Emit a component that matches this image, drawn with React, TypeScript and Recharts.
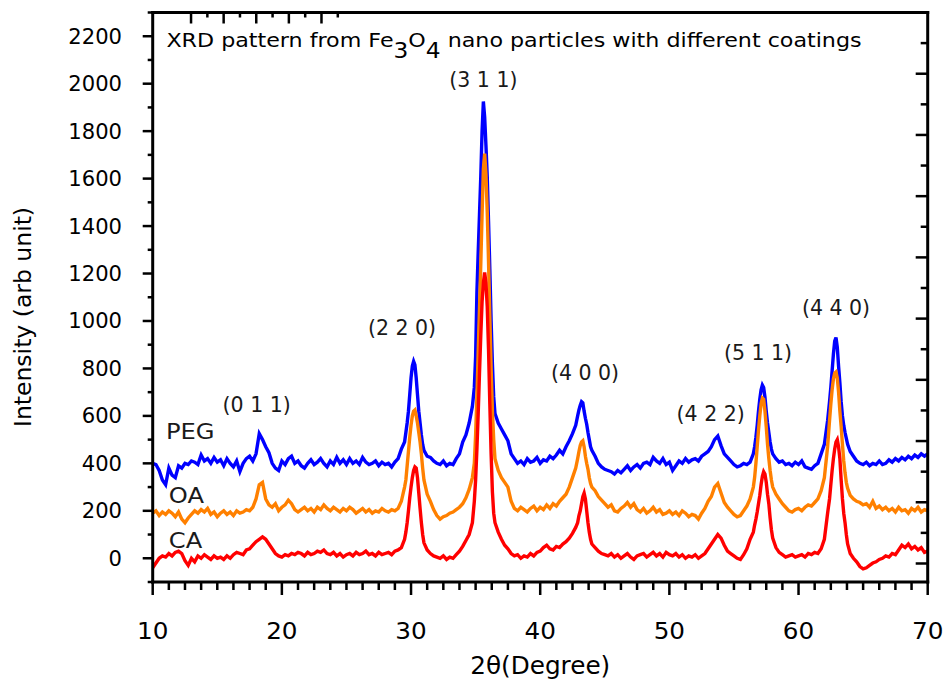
import React from 'react';
import { LineChart, Line, XAxis, YAxis, ReferenceDot, ReferenceLine } from 'recharts';

// ---------------- data ----------------
const twoTheta = [
  10, 10.25, 10.5, 10.75, 11, 11.25, 11.5, 11.75, 12, 12.25,
  12.5, 12.75, 13, 13.25, 13.5, 13.75, 14, 14.25, 14.5, 14.75,
  15, 15.25, 15.5, 15.75, 16, 16.25, 16.5, 16.75, 17, 17.25,
  17.5, 17.75, 18, 18.25, 18.5, 18.75, 19, 19.25, 19.5, 19.75,
  20, 20.25, 20.5, 20.75, 21, 21.25, 21.5, 21.75, 22, 22.25,
  22.5, 22.75, 23, 23.25, 23.5, 23.75, 24, 24.25, 24.5, 24.75,
  25, 25.25, 25.5, 25.75, 26, 26.25, 26.5, 26.75, 27, 27.25,
  27.5, 27.75, 28, 28.25, 28.5, 28.75, 29, 29.25, 29.5,
  29.6, 29.7, 29.8, 29.9, 30, 30.1, 30.2, 30.3, 30.4, 30.5, 30.6, 30.7, 30.8, 30.9, 31,
  31.25, 31.5, 31.75, 32, 32.25, 32.5, 32.75, 33, 33.25, 33.5, 33.75, 34, 34.25, 34.5, 34.75,
  34.9, 35, 35.1, 35.2, 35.3, 35.4, 35.5, 35.6, 35.7, 35.8, 35.9, 36, 36.1, 36.2, 36.3, 36.4, 36.5,
  36.75, 37, 37.25, 37.5, 37.75, 38, 38.25, 38.5, 38.75, 39, 39.25, 39.5, 39.75, 40, 40.25, 40.5, 40.75, 41, 41.25, 41.5, 41.75, 42, 42.25, 42.5, 42.75,
  42.9, 43, 43.1, 43.2, 43.3, 43.4, 43.5, 43.6, 43.7, 43.8, 43.9,
  44, 44.25, 44.5, 44.75, 45, 45.25, 45.5, 45.75, 46, 46.25,
  46.5, 46.75, 47, 47.25, 47.5, 47.75, 48, 48.25, 48.5, 48.75,
  49, 49.25, 49.5, 49.75, 50, 50.25, 50.5, 50.75, 51, 51.25,
  51.5, 51.75, 52, 52.25, 52.5, 52.75, 53, 53.25, 53.5, 53.75,
  54, 54.25, 54.5, 54.75, 55, 55.25, 55.5, 55.75, 56, 56.25,
  56.5,
  56.6, 56.7, 56.8, 56.9, 57, 57.1, 57.2, 57.3, 57.4, 57.5, 57.6, 57.7, 57.8, 57.9, 58,
  58.25, 58.5, 58.75, 59, 59.25, 59.5, 59.75, 60, 60.25, 60.5, 60.75, 61, 61.25, 61.5, 61.75, 62, 62.25,
  62.4, 62.5, 62.6, 62.7, 62.8, 62.9, 63, 63.1, 63.2, 63.3, 63.4, 63.5, 63.6, 63.7, 63.8,
  64, 64.25, 64.5, 64.75, 65, 65.25, 65.5, 65.75, 66, 66.25, 66.5, 66.75, 67, 67.25, 67.5, 67.75, 68, 68.25, 68.5, 68.75, 69, 69.25, 69.5, 69.75, 70,
];

const pegIntensity = [
  400, 395, 370, 330, 310, 380, 350, 340, 390, 380,
  400, 395, 410, 405, 395, 435, 410, 420, 400, 425,
  405, 415, 390, 420, 400, 385, 410, 365, 400, 420,
  430, 410, 440, 525, 500, 470, 445, 400, 380, 370,
  410, 395, 420, 430, 400, 410, 390, 380, 400, 415,
  395, 405, 420, 400, 385, 410, 395, 425, 400, 415,
  395, 420, 400, 410, 395, 425, 405, 395, 400, 410,
  390, 405, 395, 400, 385, 405, 420, 460, 490,
  530, 570, 620, 690, 760, 810, 830, 815, 760, 690, 620, 570, 520, 480, 455,
  430, 425, 410, 400, 395, 410, 390, 400, 395, 420, 440, 490, 520, 570, 640,
  720, 850, 1120, 1290, 1450, 1610, 1800, 1925, 1860, 1740, 1610, 1420, 1220, 1000, 820, 680, 610,
  570, 545, 520, 495, 440, 420, 400, 410, 395, 420, 405, 410, 425, 400, 415, 410, 430, 420, 435, 455, 440, 470, 495, 525, 560,
  600, 625, 645, 660, 655, 620, 590, 565, 530, 500, 470,
  455, 430, 400, 385, 375, 370, 365, 355, 370, 360,
  375, 390, 370, 385, 395, 380, 400, 405, 395, 425,
  410, 400, 420, 395, 405, 370, 390, 410, 400, 420,
  405, 415, 420, 410, 430, 440, 450, 470, 500, 515,
  475, 440, 425, 410, 395, 385, 390, 400, 395, 405,
  440,
  470, 510, 560, 620, 670, 710, 730, 720, 680, 620, 570, 530, 490, 460, 440,
  420, 405, 410, 395, 400, 390, 405, 395, 410, 385, 380, 375, 390, 400, 440, 480, 580,
  660, 720, 790, 860, 915, 930, 890, 810, 740, 660, 600, 560, 530, 505, 480,
  450, 430, 410, 400, 395, 405, 390, 400, 395, 410, 395, 400, 415, 405, 420, 410, 425, 415, 430, 420, 435, 425, 440, 430, 440,
];

const oaIntensity = [
  190, 200, 180, 195, 185, 200, 190, 175, 195, 165,
  150, 170, 185, 200, 190, 205, 195, 210, 185, 195,
  175, 190, 200, 185, 195, 180, 200, 190, 195, 205,
  200, 215, 250, 310, 320, 250, 225, 215, 230, 200,
  215, 225, 245, 230, 205, 195, 205, 215, 200, 210,
  195, 215, 205, 225, 210, 200, 215, 205, 195, 210,
  200, 215, 205, 190, 200, 210, 195, 205, 190, 200,
  195, 210, 200, 195, 205, 200, 210, 240, 300,
  330, 390, 450, 510, 560, 600, 620, 625, 600, 570, 530, 490, 440, 380, 330,
  270, 240, 205, 180, 165, 175, 180, 190, 195, 205, 215, 230, 255, 290, 340,
  400, 520, 680, 870, 1050, 1240, 1450, 1640, 1705, 1620, 1460, 1250, 1020, 800, 620, 500, 420,
  370, 340, 320, 300, 240, 210, 200, 215, 205, 195, 210, 220, 200, 215, 205, 225, 210, 230, 220, 240, 255, 270, 300, 340, 380,
  420, 450, 475, 490, 495, 470, 430, 400, 375, 340, 315,
  300, 285, 260, 245, 230, 215, 225, 200, 195, 210,
  220, 235, 215, 230, 205, 195, 210, 190, 200, 215,
  195, 205, 185, 190, 200, 185, 195, 180, 200, 190,
  175, 185, 180, 165, 190, 210, 240, 260, 300, 315,
  275, 235, 215, 200, 185, 175, 180, 200, 220, 250,
  300,
  340, 400, 470, 540, 600, 650, 675, 670, 620, 555, 480, 420, 370, 330, 300,
  270, 250, 230, 215, 200, 195, 205, 210, 200, 215, 225, 220, 235, 250, 285, 340, 470,
  580, 650, 710, 755, 780, 785, 760, 700, 620, 555, 480, 410, 360, 320, 295,
  265, 250, 240, 235, 225, 230, 215, 240, 210, 220, 205, 215, 200, 210, 195, 215, 200, 205, 190, 210, 200, 215, 195, 205, 200,
];

const caIntensity = [
  -40, -20, 0, 10, 5, 20, 10, 25, 30, 20,
  -10, -30, 0, -15, 10, 0, 15, 5, -5, 10,
  0, 5, -5, 10, 0, 15, 25, 20, 15, 35,
  40, 55, 70, 80, 90, 80, 60, 40, 20, 10,
  5, 15, 10, 20, 15, 25, 20, 10, 25, 15,
  20, 30, 25, 35, 20, 15, 25, 10, 20, 5,
  15, 20, 10, 25, 15, 20, 30, 15, 20, 10,
  25, 15, 20, 25, 15, 30, 35, 45, 80,
  110, 150, 200, 255, 300, 340, 370, 385, 380, 340, 275, 210, 150, 100, 65,
  35, 20, 10, 5, 0, 10, -5, 5, 0, 15, 30, 50, 75, 100, 150,
  240, 330, 460, 610, 780, 940, 1080, 1160, 1205, 1160, 1060, 880, 650, 440, 280, 190, 150,
  110, 80, 55, 40, 20, 10, 15, 0, 10, 5, 20, 10, 25, 30, 45, 55, 40, 35, 50, 45, 60, 70, 85, 105, 130,
  150, 180, 200, 230, 260, 275, 250, 200, 150, 110, 80,
  60, 45, 30, 20, 15, 10, 20, 5, 15, 0,
  10, 20, 5, -5, 10, 15, 20, 5, 15, 25,
  10, 20, 5, 25, 15, 10, 20, 5, 15, 0,
  10, 5, 15, 0, 10, 20, 40, 60, 80, 100,
  85, 55, 30, 20, 10, 0, -5, 15, 40, 80,
  110,
  140, 165, 195, 230, 265, 310, 345, 365, 355, 320, 270, 230, 170, 120, 85,
  45, 25, 15, 5, 10, 15, 5, 10, 15, 5, 20, 15, 25, 20, 40, 80, 190,
  250, 310, 370, 420, 460, 490, 500, 470, 420, 330, 250, 190, 150, 100, 60,
  20, 0, -15, -35, -45, -40, -30, -20, -15, -5, 0, 10, 5, 20, 15, 35, 55, 45, 60, 40, 50, 35, 45, 25, 30,
];

const xMajorTicks = [10, 20, 30, 40, 50, 60, 70];
const xMinorTicks = [
  11.25, 12.5, 13.75, 15, 16.25, 17.5, 18.75,
  21.25, 22.5, 23.75, 25, 26.25, 27.5, 28.75,
  31.25, 32.5, 33.75, 35, 36.25, 37.5, 38.75,
  41.25, 42.5, 43.75, 45, 46.25, 47.5, 48.75,
  51.25, 52.5, 53.75, 55, 56.25, 57.5, 58.75,
  61.25, 62.5, 63.75, 65, 66.25, 67.5, 68.75,
];
const yMajorTicks = [0, 200, 400, 600, 800, 1000, 1200, 1400, 1600, 1800, 2000, 2200];
const yMinorTicks = [-100, 100, 300, 500, 700, 900, 1100, 1300, 1500, 1700, 1900, 2100, 2300];
const topLongTicks = [14.05, 26, 37.95, 49.9, 61.85];
const topShortTicks = [20.03, 31.98, 43.93, 55.88, 67.83];
const rightLongTicks = [-22, 236, 494, 752, 1010, 1268, 1526, 1784, 2042, 2300];
const rightShortTicks = [107, 365, 623, 881, 1139, 1397, 1655, 1913, 2171];

const peakLabels = [
  { text: '(0 1 1)', x: 18.05, y: 616 },
  { text: '(2 2 0)', x: 29.3, y: 941 },
  { text: '(3 1 1)', x: 35.6, y: 1987 },
  { text: '(4 0 0)', x: 43.47, y: 751 },
  { text: '(4 2 2)', x: 53.2, y: 578 },
  { text: '(5 1 1)', x: 56.86, y: 836 },
  { text: '(4 4 0)', x: 62.9, y: 1025 },
];
const seriesLabels = [
  { text: 'PEG', x: 11.03, y: 503 },
  { text: 'OA', x: 11.25, y: 234 },
  { text: 'CA', x: 11.25, y: 42 },
];
const titlePos = { x: 11.06, y: 2155 };

// ---------------- layout ----------------
const W = 943;
const H = 680;
const PLOT_LEFT = 152.7;
const PLOT_RIGHT = 927.7;
const PLOT_TOP = 12.5;
const PLOT_BOTTOM = 582;
const BOTTOM_AXIS_H = 60;
const TOP_AXIS_H = 10;
const LEFT_AXIS_W = 100;
const RIGHT_AXIS_W = 10;
const X_MIN = 10;
const X_MAX = 70;
const PX_PER_DEG = (PLOT_RIGHT - PLOT_LEFT) / (X_MAX - X_MIN);
const FONT = '"DejaVu Sans", Verdana, sans-serif';

const rows = twoTheta.map((t, i) => ({
  t,
  peg: pegIntensity[i],
  oa: oaIntensity[i],
  ca: caIntensity[i],
}));

const leftAxisTicks = [...yMajorTicks, ...yMinorTicks].sort((a, b) => a - b);

type STProps = {
  x: number;
  y: number;
  sx?: number;
  anchor?: 'start' | 'middle' | 'end';
  size: number;
  fill?: string;
  children?: React.ReactNode;
};
const StretchText = ({ x, y, sx = 1, anchor = 'start', size, fill = '#000', children }: STProps) => (
  <text
    transform={`translate(${x},${y}) scale(${sx},1)`}
    x={0}
    y={0}
    textAnchor={anchor}
    fontSize={size}
    fontFamily={FONT}
    fill={fill}
  >
    {children}
  </text>
);

const BottomTick = (props: any) => {
  const { x, payload } = props;
  const v = payload.value;
  const major = xMajorTicks.includes(v);
  return (
    <g>
      <line x1={x} x2={x} y1={PLOT_BOTTOM} y2={PLOT_BOTTOM + (major ? 13 : 8)} stroke="#000" strokeWidth={2.5} />
      {major && (
        <StretchText x={x} y={PLOT_BOTTOM + 57} sx={1.05} anchor="middle" size={23.5}>
          {v}
        </StretchText>
      )}
    </g>
  );
};

const LeftTick = (props: any) => {
  const { y, payload } = props;
  const v = payload.value;
  const major = yMajorTicks.includes(v);
  return (
    <g>
      <line x1={PLOT_LEFT} x2={PLOT_LEFT - (major ? 10 : 5)} y1={y} y2={y} stroke="#000" strokeWidth={2.5} />
      {major && (
        <StretchText x={PLOT_LEFT - 30.7} y={y + 7.5} sx={1.03} anchor="end" size={20.5}>
          {v}
        </StretchText>
      )}
    </g>
  );
};

const TopTick = (props: any) => {
  const { x, payload } = props;
  const long = topLongTicks.includes(payload.value);
  return <line x1={x} x2={x} y1={PLOT_TOP} y2={PLOT_TOP + (long ? 11 : 5)} stroke="#000" strokeWidth={2.5} />;
};

const XTitle = () => (
  <StretchText x={(PLOT_LEFT + PLOT_RIGHT) / 2} y={674} sx={1.03} anchor="middle" size={24}>
    2θ(Degree)
  </StretchText>
);

const YTitle = () => (
  <text transform={`translate(31,317) rotate(-90)`} textAnchor="middle" fontSize={23.5} fontFamily={FONT} fill="#000">
    Intensity (arb unit)
  </text>
);

const axisLine = { stroke: '#000', strokeWidth: 3, strokeLinecap: 'square' as const };

export default function App() {
  const rightTickMarks = [
    ...rightLongTicks.map((v) => ({ v, len: 12 })),
    ...rightShortTicks.map((v) => ({ v, len: 7 })),
  ];
  return (
    <div style={{ position: 'absolute', left: 0, top: 0, width: W, height: H, background: '#fff' }}>
      <LineChart
        width={W}
        height={H}
        data={rows}
        margin={{
          top: PLOT_TOP - TOP_AXIS_H,
          bottom: H - PLOT_BOTTOM - BOTTOM_AXIS_H,
          left: PLOT_LEFT - LEFT_AXIS_W,
          right: W - PLOT_RIGHT - RIGHT_AXIS_W,
        }}
      >
        <XAxis
          dataKey="t"
          type="number"
          domain={[X_MIN, X_MAX]}
          allowDataOverflow
          ticks={[...xMajorTicks, ...xMinorTicks].sort((a, b) => a - b)}
          interval={0}
          height={BOTTOM_AXIS_H}
          tickSize={0}
          tickMargin={0}
          tickLine={false}
          tick={<BottomTick />}
          axisLine={axisLine}
          label={<XTitle />}
        />
        <XAxis
          xAxisId="top"
          orientation="top"
          type="number"
          domain={[X_MIN, X_MAX]}
          allowDataOverflow
          ticks={[...topLongTicks, ...topShortTicks].sort((a, b) => a - b)}
          interval={0}
          height={TOP_AXIS_H}
          tickSize={0}
          tickMargin={0}
          tickLine={false}
          tick={<TopTick />}
          axisLine={axisLine}
        />
        <YAxis
          type="number"
          domain={[-100, 2300]}
          allowDataOverflow
          ticks={leftAxisTicks}
          interval={0}
          width={LEFT_AXIS_W}
          tickSize={0}
          tickMargin={0}
          tickLine={false}
          tick={<LeftTick />}
          axisLine={axisLine}
          label={<YTitle />}
        />
        <YAxis
          yAxisId="right"
          orientation="right"
          type="number"
          domain={[-100, 2300]}
          allowDataOverflow
          width={RIGHT_AXIS_W}
          tickLine={false}
          tick={false}
          axisLine={axisLine}
        />
        {rightTickMarks.map((m) => (
          <ReferenceLine
            key={'rt' + m.v}
            segment={[
              { x: X_MAX - m.len / PX_PER_DEG, y: m.v },
              { x: X_MAX, y: m.v },
            ]}
            stroke="#000"
            strokeWidth={2.5}
            ifOverflow="visible"
          />
        ))}
        <Line type="linear" dataKey="peg" stroke="#0000ff" strokeWidth={3.4} dot={false} activeDot={false} isAnimationActive={false} />
        <Line type="linear" dataKey="oa" stroke="#ff8000" strokeWidth={3.4} dot={false} activeDot={false} isAnimationActive={false} />
        <Line type="linear" dataKey="ca" stroke="#ff0000" strokeWidth={3.4} dot={false} activeDot={false} isAnimationActive={false} />
        {peakLabels.map((l) => (
          <ReferenceDot
            key={l.text + l.x}
            x={l.x}
            y={l.y}
            r={1}
            ifOverflow="visible"
            shape={(p: any) => (
              <StretchText x={p.cx} y={p.cy} anchor="middle" size={20.5} fill="#1a1a1a">
                {l.text}
              </StretchText>
            )}
          />
        ))}
        {seriesLabels.map((l) => (
          <ReferenceDot
            key={l.text}
            x={l.x}
            y={l.y}
            r={1}
            ifOverflow="visible"
            shape={(p: any) => (
              <StretchText x={p.cx} y={p.cy} sx={1.1} anchor="start" size={22} fill="#1a1a1a">
                {l.text}
              </StretchText>
            )}
          />
        ))}
        <ReferenceDot
          x={titlePos.x}
          y={titlePos.y}
          r={1}
          ifOverflow="visible"
          shape={(p: any) => (
            <StretchText x={p.cx} y={p.cy} sx={1.11} anchor="start" size={20} fill="#000">
              {'XRD pattern from Fe'}
              <tspan dy={11} fontSize={21}>3</tspan>
              <tspan dy={-11}>{'O'}</tspan>
              <tspan dy={11} fontSize={21}>4</tspan>
              <tspan dy={-11}>{' nano particles with different coatings'}</tspan>
            </StretchText>
          )}
        />
      </LineChart>
    </div>
  );
}
